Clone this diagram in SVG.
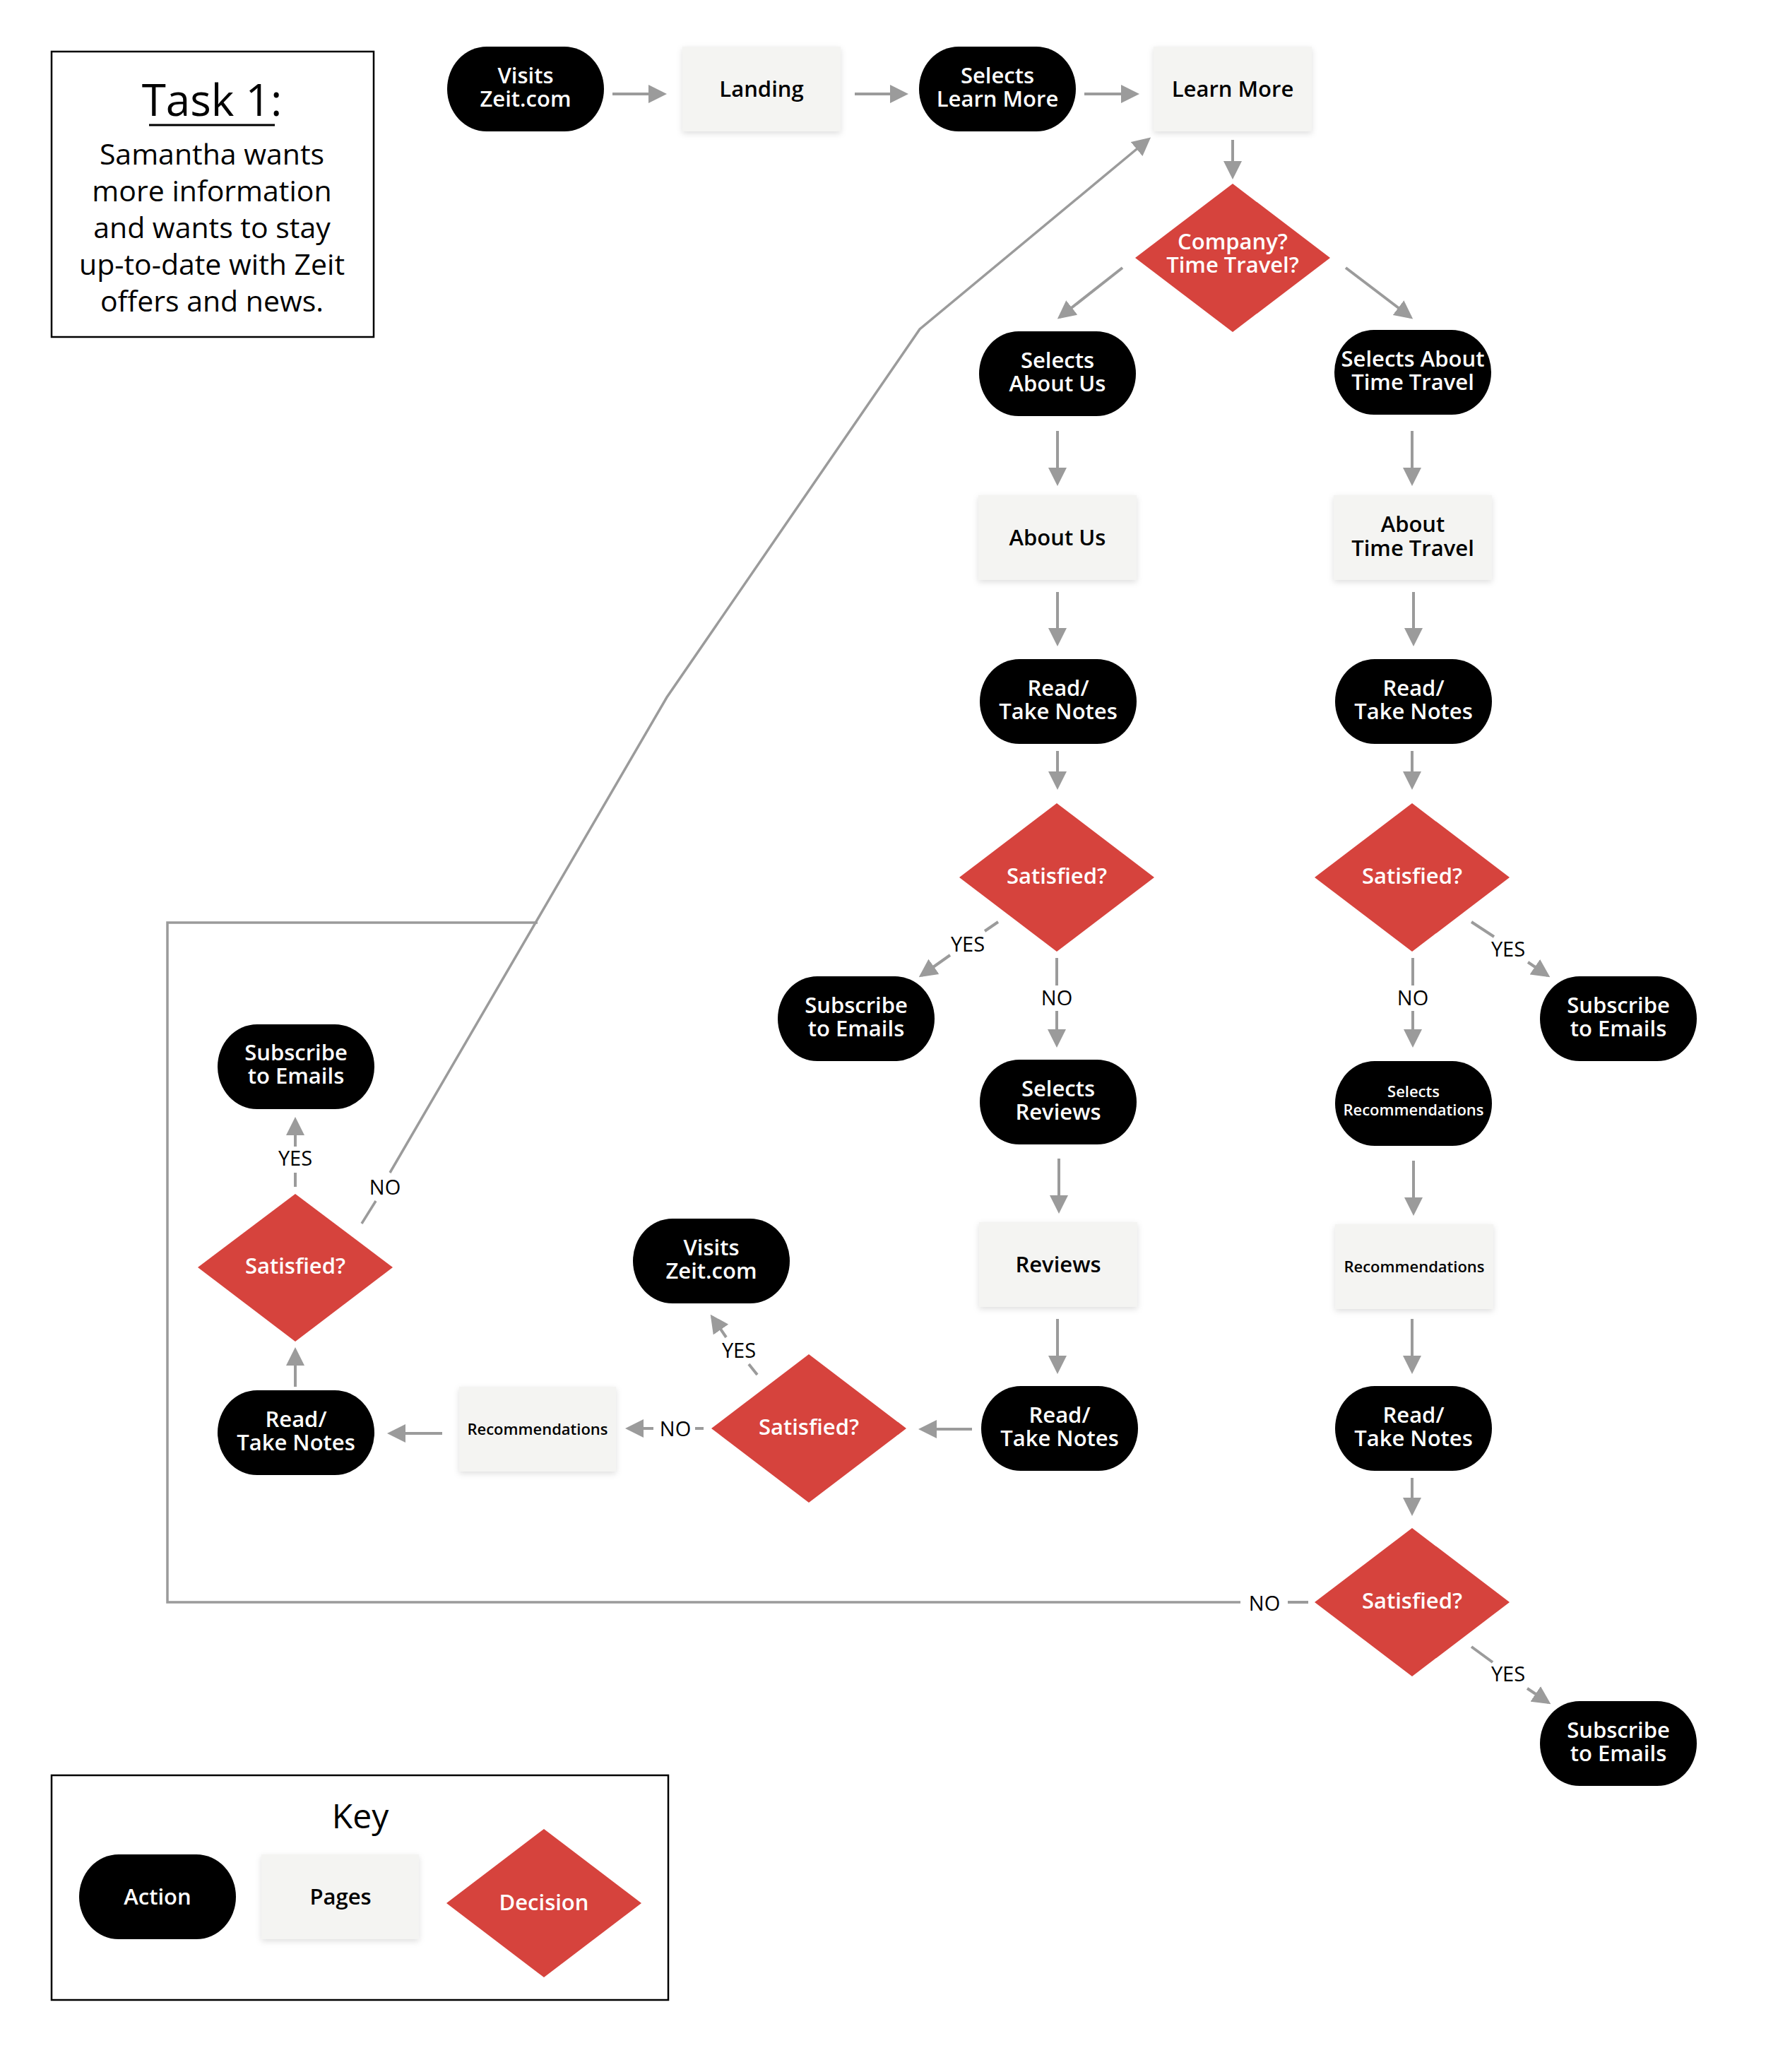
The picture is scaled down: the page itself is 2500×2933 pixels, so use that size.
<svg xmlns="http://www.w3.org/2000/svg" width="2500" height="2933" viewBox="0 0 2500 2933">
<style>
.pill{fill:#000}
.page{fill:#f4f4f2;filter:url(#sh)}
.dec{fill:#d6433d}
text{font-family:"Open Sans","Noto Sans","Liberation Sans",sans-serif;text-anchor:middle}
.w{fill:#fff;font-size:31px;font-weight:600}
.b{fill:#000;font-size:31px;font-weight:600}
.s{font-size:22px}
.lbl{fill:#000;font-size:29px;font-weight:500}
.body{fill:#000;font-size:41px}
.conn{stroke:#9b9b9b;stroke-width:4;fill:none}
.loop{stroke:#9b9b9b;stroke-width:3.5;fill:none}
.arr{marker-end:url(#ah)}
.frame{fill:none;stroke:#000;stroke-width:2.5}
</style>
<defs>
<filter id="sh" x="-10%" y="-10%" width="120%" height="130%">
<feDropShadow dx="0" dy="3" stdDeviation="4" flood-color="#000" flood-opacity="0.13"/>
</filter>
<marker id="ah" markerUnits="userSpaceOnUse" markerWidth="26" markerHeight="26" viewBox="0 0 26 26" refX="22" refY="13" orient="auto">
<path d="M0,0 L26,13 L0,26 z" fill="#9b9b9b"/>
</marker>
</defs>
<rect width="2500" height="2933" fill="#fff"/>

<g id="task">
<rect class="frame" x="73" y="73" width="456" height="404"/>
<text x="300" y="164" style="font-size:62px;font-weight:500;fill:#000">Task 1:</text>
<line x1="211" y1="177" x2="389" y2="177" stroke="#000" stroke-width="3"/>
<text class="body" x="300" y="233"><tspan x="300">Samantha wants</tspan><tspan x="300" dy="52">more information</tspan><tspan x="300" dy="52">and wants to stay</tspan><tspan x="300" dy="52">up-to-date with Zeit</tspan><tspan x="300" dy="52">offers and news.</tspan></text>
</g>

<g id="connectors">
<path class="conn arr" d="M867,133 H940"/>
<path class="conn arr" d="M1210,133 H1282"/>
<path class="conn arr" d="M1535,133 H1609"/>
<path class="conn arr" d="M1745,198 V250"/>
<path class="conn arr" d="M1589,379 L1500,449"/>
<path class="conn arr" d="M1905,379 L1997,449"/>
<path class="conn arr" d="M1497,610 V684"/>
<path class="conn arr" d="M1999,610 V684"/>
<path class="conn arr" d="M1497,838 V911"/>
<path class="conn arr" d="M2001,838 V911"/>
<path class="conn arr" d="M1497,1063 V1114"/>
<path class="conn arr" d="M1999,1063 V1114"/>
<path class="conn" d="M1413,1305 L1394,1318"/>
<path class="conn arr" d="M1345,1352 L1304,1381"/>
<path class="conn" d="M1496,1356 V1395"/>
<path class="conn arr" d="M1496,1431 V1479"/>
<path class="conn" d="M2083,1305 L2115,1326"/>
<path class="conn arr" d="M2163,1362 L2191,1381"/>
<path class="conn" d="M2000,1356 V1395"/>
<path class="conn arr" d="M2000,1431 V1479"/>
<path class="conn arr" d="M1499,1640 V1714"/>
<path class="conn arr" d="M2001,1643 V1717"/>
<path class="conn arr" d="M1497,1867 V1941"/>
<path class="conn arr" d="M1999,1867 V1941"/>
<path class="conn arr" d="M1376,2023 H1304"/>
<path class="conn arr" d="M1999,2092 V2142"/>
<path class="conn" d="M2083,2331 L2113,2353"/>
<path class="conn arr" d="M2162,2390 L2192,2410"/>
<path class="conn" d="M1823,2268 H1852"/>
<path class="loop" d="M1756,2268 H237 V1306 H761"/>
<path class="conn" d="M984,2022 H996"/>
<path class="conn arr" d="M925,2022 H889"/>
<path class="conn" d="M1072,1946 L1060,1931"/>
<path class="conn arr" d="M1028,1893 L1008,1864"/>
<path class="conn arr" d="M626,2029 H552"/>
<path class="conn arr" d="M418,1963 V1911"/>
<path class="conn" d="M418,1680 V1660"/>
<path class="conn arr" d="M418,1623 V1585"/>
<path class="loop" d="M512,1732 L532,1700"/>
<path class="loop arr" d="M552,1660 L944,987 L1302,466 L1626,197"/>
<text class="lbl" x="1370" y="1347">YES</text>
<text class="lbl" x="1496" y="1423">NO</text>
<text class="lbl" x="2135" y="1354">YES</text>
<text class="lbl" x="2000" y="1423">NO</text>
<text class="lbl" x="2135" y="2380">YES</text>
<text class="lbl" x="1790" y="2280">NO</text>
<text class="lbl" x="956" y="2033">NO</text>
<text class="lbl" x="1046" y="1922">YES</text>
<text class="lbl" x="418" y="1650">YES</text>
<text class="lbl" x="545" y="1691">NO</text>
</g>

<g id="n-visits1"><rect class="pill" x="633" y="66" width="222" height="120" rx="56" ry="60"/><text class="w" x="744" y="118"><tspan x="744">Visits</tspan><tspan x="744" dy="33">Zeit.com</tspan></text></g>
<g id="n-landing"><rect class="page" x="966" y="66" width="224" height="120"/><text class="b" x="1078" y="137">Landing</text></g>
<g id="n-selects-learn"><rect class="pill" x="1301" y="66" width="222" height="120" rx="56" ry="60"/><text class="w" x="1412" y="118"><tspan x="1412">Selects</tspan><tspan x="1412" dy="33">Learn More</tspan></text></g>
<g id="n-learn"><rect class="page" x="1633" y="66" width="224" height="120"/><text class="b" x="1745" y="137">Learn More</text></g>
<g id="d-company"><polygon class="dec" points="1745,260 1883,365 1745,470 1607,365"/><text class="w" x="1745" y="353"><tspan x="1745">Company?</tspan><tspan x="1745" dy="33">Time Travel?</tspan></text></g>

<g id="n-selects-about"><rect class="pill" x="1386" y="469" width="222" height="120" rx="56" ry="60"/><text class="w" x="1497" y="521"><tspan x="1497">Selects</tspan><tspan x="1497" dy="33">About Us</tspan></text></g>
<g id="n-selects-tt"><rect class="pill" x="1889" y="467" width="222" height="120" rx="56" ry="60"/><text class="w" x="2000" y="519"><tspan x="2000">Selects About</tspan><tspan x="2000" dy="33">Time Travel</tspan></text></g>
<g id="n-about"><rect class="page" x="1385" y="701" width="224" height="120"/><text class="b" x="1497" y="772">About Us</text></g>
<g id="n-about-tt"><rect class="page" x="1888" y="701" width="224" height="120"/><text class="b" x="2000" y="753"><tspan x="2000">About</tspan><tspan x="2000" dy="34">Time Travel</tspan></text></g>
<g id="n-read-a"><rect class="pill" x="1387" y="933" width="222" height="120" rx="56" ry="60"/><text class="w" x="1498" y="985"><tspan x="1498">Read/</tspan><tspan x="1498" dy="33">Take Notes</tspan></text></g>
<g id="n-read-b"><rect class="pill" x="1890" y="933" width="222" height="120" rx="56" ry="60"/><text class="w" x="2001" y="985"><tspan x="2001">Read/</tspan><tspan x="2001" dy="33">Take Notes</tspan></text></g>
<g id="d-sat-a"><polygon class="dec" points="1496,1137 1634,1242 1496,1347 1358,1242"/><text class="w" x="1496" y="1251">Satisfied?</text></g>
<g id="d-sat-b"><polygon class="dec" points="1999,1137 2137,1242 1999,1347 1861,1242"/><text class="w" x="1999" y="1251">Satisfied?</text></g>
<g id="n-sub-a"><rect class="pill" x="1101" y="1382" width="222" height="120" rx="56" ry="60"/><text class="w" x="1212" y="1434"><tspan x="1212">Subscribe</tspan><tspan x="1212" dy="33">to Emails</tspan></text></g>
<g id="n-sub-b"><rect class="pill" x="2180" y="1382" width="222" height="120" rx="56" ry="60"/><text class="w" x="2291" y="1434"><tspan x="2291">Subscribe</tspan><tspan x="2291" dy="33">to Emails</tspan></text></g>
<g id="n-sel-reviews"><rect class="pill" x="1387" y="1500" width="222" height="120" rx="56" ry="60"/><text class="w" x="1498" y="1552"><tspan x="1498">Selects</tspan><tspan x="1498" dy="33">Reviews</tspan></text></g>
<g id="n-sel-recs"><rect class="pill" x="1890" y="1502" width="222" height="120" rx="56" ry="60"/><text class="w s" x="2001" y="1553"><tspan x="2001">Selects</tspan><tspan x="2001" dy="26">Recommendations</tspan></text></g>
<g id="n-reviews"><rect class="page" x="1386" y="1730" width="224" height="120"/><text class="b" x="1498" y="1801">Reviews</text></g>
<g id="n-recs"><rect class="page" x="1890" y="1733" width="224" height="120"/><text class="b s" x="2002" y="1801">Recommendations</text></g>
<g id="n-read-c"><rect class="pill" x="1389" y="1962" width="222" height="120" rx="56" ry="60"/><text class="w" x="1500" y="2014"><tspan x="1500">Read/</tspan><tspan x="1500" dy="33">Take Notes</tspan></text></g>
<g id="n-read-d"><rect class="pill" x="1890" y="1962" width="222" height="120" rx="56" ry="60"/><text class="w" x="2001" y="2014"><tspan x="2001">Read/</tspan><tspan x="2001" dy="33">Take Notes</tspan></text></g>
<g id="d-sat-bottom"><polygon class="dec" points="1999,2163 2137,2268 1999,2373 1861,2268"/><text class="w" x="1999" y="2277">Satisfied?</text></g>
<g id="n-sub-bottom"><rect class="pill" x="2180" y="2408" width="222" height="120" rx="56" ry="60"/><text class="w" x="2291" y="2460"><tspan x="2291">Subscribe</tspan><tspan x="2291" dy="33">to Emails</tspan></text></g>
<g id="d-sat-e"><polygon class="dec" points="1145,1917 1283,2022 1145,2127 1007,2022"/><text class="w" x="1145" y="2031">Satisfied?</text></g>
<g id="n-visits2"><rect class="pill" x="896" y="1725" width="222" height="120" rx="56" ry="60"/><text class="w" x="1007" y="1777"><tspan x="1007">Visits</tspan><tspan x="1007" dy="33">Zeit.com</tspan></text></g>
<g id="n-recs-left"><rect class="page" x="650" y="1963" width="222" height="120"/><text class="b s" x="761" y="2031">Recommendations</text></g>
<g id="n-read-f"><rect class="pill" x="308" y="1968" width="222" height="120" rx="56" ry="60"/><text class="w" x="419" y="2020"><tspan x="419">Read/</tspan><tspan x="419" dy="33">Take Notes</tspan></text></g>
<g id="d-sat-f"><polygon class="dec" points="418,1690 556,1794 418,1899 280,1794"/><text class="w" x="418" y="1803">Satisfied?</text></g>
<g id="n-sub-left"><rect class="pill" x="308" y="1450" width="222" height="120" rx="56" ry="60"/><text class="w" x="419" y="1501"><tspan x="419">Subscribe</tspan><tspan x="419" dy="33">to Emails</tspan></text></g>

<g id="key">
<rect class="frame" x="73" y="2513" width="873" height="318"/>
<text x="510" y="2588" style="font-size:48px;fill:#000">Key</text>
<g id="key-action"><rect class="pill" x="112" y="2625" width="222" height="120" rx="56" ry="60"/><text class="w" x="223" y="2696">Action</text></g>
<g id="key-pages"><rect class="page" x="370" y="2625" width="223" height="120"/><text class="b" x="482" y="2696">Pages</text></g>
<g id="key-decision"><polygon class="dec" points="770,2589 908,2694 770,2799 632,2694"/><text class="w" x="770" y="2704">Decision</text></g>
</g>
</svg>
